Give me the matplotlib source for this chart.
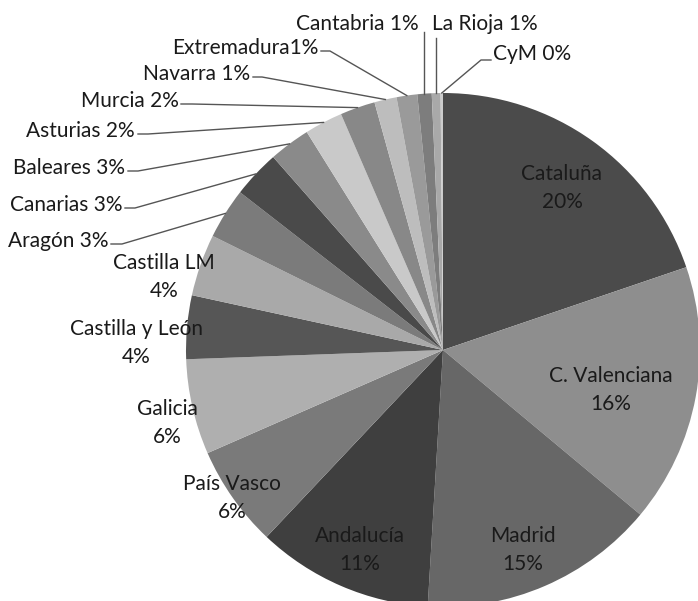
import numpy as np
from matplotlib import pyplot as plt

# datos: comunidades y su porcentaje
regiones = ['Cataluña', 'C. Valenciana', 'Madrid', 'Andalucía', 'País Vasco',
            'Galicia', 'Castilla y León', 'Castilla LM', 'Aragón', 'Canarias',
            'Baleares', 'Asturias', 'Murcia', 'Navarra', 'Extremadura',
            'Cantabria', 'La Rioja', 'CyM']
valores = [19.8, 16.3, 14.9, 11.1, 6.4, 6.0, 4.0, 3.9, 3.2, 3.0,
           2.6, 2.4, 2.2, 1.4, 1.3, 0.9, 0.55, 0.15]
etiquetas = ['20%', '16%', '15%', '11%', '6%', '6%', '4%', '4%', '3%', '3%',
             '3%', '2%', '2%', '1%', '1%', '1%', '1%', '0%']

grises = ['#4b4b4b', '#8e8e8e', '#676767', '#3f3f3f', '#7a7a7a', '#afafaf',
          '#565656', '#a9a9a9', '#7b7b7b', '#4a4a4a', '#8a8a8a', '#c9c9c9',
          '#888888', '#bdbdbd', '#9a9a9a', '#7d7d7d', '#a9a9a9', '#cccccc']

plt.rcParams['font.family'] = ['Lato', 'DejaVu Sans']
fs = 15

fig = plt.figure(figsize=(6.98, 6.01), dpi=100)
ax = fig.add_axes([0, 0, 1, 1])

cx, cy, r = 443, -350, 257
wedges, _ = ax.pie(valores, colors=grises, startangle=90, counterclock=False,
                   center=(cx, cy), radius=r, wedgeprops=dict(linewidth=0))
ax.set_xlim(0, 698)
ax.set_ylim(-601, 0)
ax.set_aspect('equal')
ax.axis('off')

# etiquetas dentro / junto al sector (posición en píxeles de la imagen)
pos_dentro = {0: (562, 188), 1: (611, 390), 2: (523, 550), 3: (360, 550),
              4: (232, 498), 5: (167, 423), 6: (136, 343), 7: (164, 277)}
for i, (x, y) in pos_dentro.items():
    ax.text(x, -y, regiones[i] + '\n' + etiquetas[i], ha='center', va='center',
            fontsize=fs, linespacing=1.45, color='#1a1a1a')

# etiquetas fuera con línea guía: texto (x, y, ha), inicio y codo de la línea
pos_fuera = {
    8: (109, 241, 'right', (111, 244), (122, 244)),
    9: (123, 205, 'right', (125, 208), (135, 208)),
    10: (125, 168, 'right', (128, 171), (138, 171)),
    11: (135, 131, 'right', (138, 134), (148, 134)),
    12: (179, 101, 'right', (181, 104), (192, 104)),
    13: (250, 74, 'right', (253, 77), (262, 77)),
    14: (318, 48, 'right', (321, 51), (330, 51)),
    15: (419, 24, 'right', None, 32),
    16: (432, 24, 'left', None, 38),
    17: (493, 54, 'left', (491, 60), (481, 60)),
}
for i, (x, y, ha, p0, p1) in pos_fuera.items():
    sep = '' if regiones[i] == 'Extremadura' else ' '
    ax.text(x, -y, regiones[i] + sep + etiquetas[i], ha=ha, va='center',
            fontsize=fs, color='#1a1a1a')
    w = wedges[i]
    ang = np.deg2rad((w.theta1 + w.theta2) / 2)
    ex, ey = cx + r * np.cos(ang), cy + r * np.sin(ang)
    if p0 is None:
        xs, ys = [ex, ex], [-p1, ey]
    else:
        xs, ys = [p0[0], p1[0], ex], [-p0[1], -p1[1], ey]
    ax.plot(xs, ys, color='#555555', lw=1)

plt.savefig('out.png', dpi=100)
